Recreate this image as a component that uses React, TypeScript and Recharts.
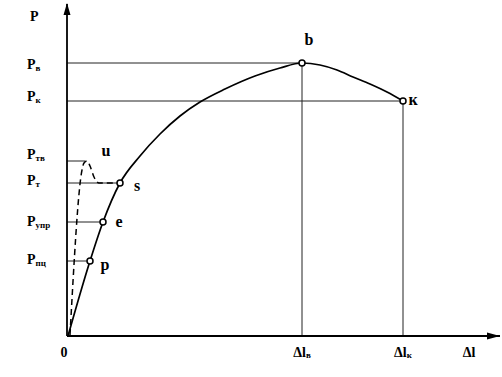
import {
  ComposedChart,
  Line,
  Scatter,
  XAxis,
  YAxis,
  ReferenceLine,
  ReferenceDot,
} from "recharts";

// main tension curve: elongation (Δl) vs load (P), arbitrary units
const curveDl = [1, 23, 36, 53, 73, 93, 113, 133, 158, 188, 213, 235, 253, 270, 286, 303, 320, 336];
const curveP = [0, 75, 114, 153, 180, 202, 220, 234, 247, 260, 268, 273, 271, 266, 259, 252, 244, 235];

// dashed curve with the upper yield tooth
const yieldDl = [3, 15, 17, 20, 23, 27, 32, 53];
const yieldP = [1, 166, 173, 175, 170, 159, 153, 153];

// load levels marked on the P axis
const levelSub = ["в", "к", "тв", "т", "упр", "пц"];
const levelP = [273, 235, 175, 153, 114, 75];
const levelDl = [235, 336, 18, 53, 36, 23];

// circled points on the curve
const markerName = ["p", "e", "s", "b", "к"];
const markerDl = [23, 36, 53, 235, 336];
const markerP = [75, 114, 153, 273, 235];

// elongation ticks
const xTickDl = [0, 235, 336, 402];
const xTickMain = ["0", "Δl", "Δl", "Δl"];
const xTickSub = ["", "в", "к", ""];

const axisTopP = 320;
const upperYieldName = "u";
const upperYieldDl = 20;

const curveRows = curveDl.map((dl, i) => ({ dl, p: curveP[i] }));
const yieldRows = yieldDl.map((dl, i) => ({ dl, p: yieldP[i] }));
const markerRows = markerDl.map((dl, i) => ({ dl, p: markerP[i], name: markerName[i] }));

const txt = {
  fontFamily: "'Liberation Serif', 'Times New Roman', serif",
  fontWeight: 700,
} as const;

const yNudge: Record<string, number> = { в: 1, к: -5, тв: -7, т: -3, упр: -1, пц: -2 };
const markLabel: Record<string, [number, number]> = {
  p: [15, 9],
  e: [16, 5],
  s: [17, 8],
  b: [7, -18],
  к: [10, 4],
};

function YTick(props: any) {
  const { y, payload } = props;
  const i = levelP.indexOf(payload.value);
  const sub = i >= 0 ? levelSub[i] : "";
  const dy = i >= 0 ? yNudge[sub] : 0;
  return (
    <text x={i >= 0 ? 27 : 30} y={y + 5 + dy} style={{ ...txt, fontSize: 14 }} fill="#000">
      P
      {sub && (
        <tspan style={{ fontSize: 9 }} dy={2}>
          {sub}
        </tspan>
      )}
    </text>
  );
}

function XTick(props: any) {
  const { x, y, payload } = props;
  const i = xTickDl.indexOf(payload.value);
  const main = xTickMain[i];
  const sub = xTickSub[i];
  return (
    <text
      x={i === 0 ? x - 3 : x}
      y={y + 21}
      textAnchor="middle"
      style={{ ...txt, fontSize: 14 }}
      fill="#000"
    >
      {main}
      {sub && (
        <tspan style={{ fontSize: 9 }} dy={1}>
          {sub}
        </tspan>
      )}
    </text>
  );
}

function Marker(props: any) {
  const { cx, cy, payload } = props;
  const [dx, dy] = markLabel[payload.name];
  return (
    <g>
      <circle cx={cx} cy={cy} r={3} fill="#fff" stroke="#000" strokeWidth={1.5} />
      <text
        x={cx + dx}
        y={cy + dy}
        textAnchor="middle"
        style={{ ...txt, fontSize: 16 }}
        fill="#000"
      >
        {payload.name}
      </text>
    </g>
  );
}

export default function App() {
  return (
    <div style={{ position: "absolute", left: 0, top: 0, background: "#fff" }}>
      <ComposedChart
        width={502}
        height={377}
        margin={{ top: 4, right: 2, bottom: 0, left: 0 }}
      >
        <XAxis
          dataKey="dl"
          type="number"
          domain={[0, 433]}
          ticks={xTickDl}
          tick={<XTick />}
          tickLine={false}
          tickSize={0}
          tickMargin={0}
          height={41}
          axisLine={{ stroke: "#000", strokeWidth: 1.8 }}
          interval={0}
        />
        <YAxis
          dataKey="p"
          type="number"
          domain={[0, 332]}
          ticks={[...levelP, axisTopP]}
          tick={<YTick />}
          tickLine={false}
          tickSize={0}
          tickMargin={0}
          width={67}
          axisLine={{ stroke: "#000", strokeWidth: 1.8 }}
          interval={0}
        />

        {levelP.map((p, i) => (
          <ReferenceLine
            key={`h-${i}`}
            segment={[
              { x: 0, y: p },
              { x: levelDl[i], y: p },
            ]}
            stroke="#222"
            strokeWidth={1}
          />
        ))}
        {[3, 4].map((i) => (
          <ReferenceLine
            key={`v-${i}`}
            segment={[
              { x: markerDl[i], y: 0 },
              { x: markerDl[i], y: markerP[i] },
            ]}
            stroke="#222"
            strokeWidth={1}
          />
        ))}

        <Line
          data={yieldRows}
          dataKey="p"
          type="monotone"
          stroke="#000"
          strokeWidth={1.5}
          strokeDasharray="6 4"
          dot={false}
          isAnimationActive={false}
        />
        <Line
          data={curveRows}
          dataKey="p"
          type="monotone"
          stroke="#000"
          strokeWidth={1.7}
          dot={false}
          isAnimationActive={false}
        />
        <Scatter
          data={markerRows}
          dataKey="p"
          shape={<Marker />}
          isAnimationActive={false}
        />

        <ReferenceDot
          x={upperYieldDl}
          y={levelP[2]}
          r={0}
          shape={(p: any) => (
            <text
              x={p.cx + 19}
              y={p.cy - 5}
              textAnchor="middle"
              style={{ ...txt, fontSize: 16 }}
              fill="#000"
            >
              {upperYieldName}
            </text>
          )}
        />
        <ReferenceDot
          x={0}
          y={332}
          r={0}
          shape={(p: any) => (
            <path
              d={`M${p.cx},${p.cy - 1} L${p.cx - 3.5},${p.cy + 11} L${p.cx + 3.5},${p.cy + 11} Z`}
              fill="#000"
            />
          )}
        />
        <ReferenceDot
          x={433}
          y={0}
          r={0}
          shape={(p: any) => (
            <path
              d={`M${p.cx},${p.cy} L${p.cx - 13},${p.cy - 3.5} L${p.cx - 13},${p.cy + 3.5} Z`}
              fill="#000"
            />
          )}
        />
      </ComposedChart>
    </div>
  );
}
